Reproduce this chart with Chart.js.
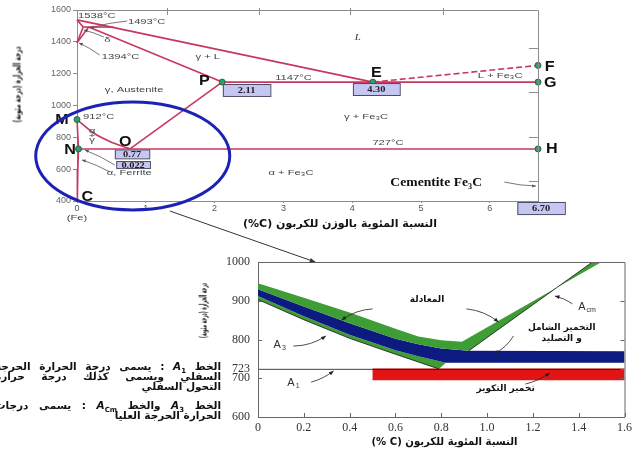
<!DOCTYPE html>
<html>
<head>
<meta charset="utf-8">
<script src="https://cdn.jsdelivr.net/npm/chart.js@4.4.1/dist/chart.umd.min.js"></script>
<style>
  body { margin: 0; background: #fff; width: 636px; height: 451px; position: relative; overflow: hidden; font-family: "DejaVu Sans", sans-serif; }
  canvas { position: absolute; left: 0; top: 0; }
  .t { position: absolute; white-space: nowrap; font-weight: bold; color: #111; direction: rtl; transform-origin: center center; }
  .note { position: absolute; right: 415px; width: 226px; font-size: 10.5px; line-height: 10px; font-weight: bold; direction: rtl; text-align: right; color: #111; white-space: nowrap; }
  .note.full { text-align: justify; text-align-last: justify; }
  .note sub { font-size: 7px; line-height: 0; }
</style>
</head>
<body>
<canvas id="main" width="636" height="451"></canvas>
<canvas id="inset" width="636" height="451"></canvas>

<div class="t" id="mainY" style="font-size:10px">درجة الحرارة (درجة مئوية)</div>
<div class="t" id="mainX" style="font-size:11px">النسبة المئوية بالوزن للكربون (C%)</div>
<div class="t" id="insetY" style="font-size:10px">درجة الحرارة (درجة مئوية)</div>
<div class="t" id="insetX" style="font-size:11px">النسبة المئوية للكربون (C %)</div>

<div class="note full" style="top:361px">الخط <i>A</i><sub>1</sub> : يسمى درجة الحرارة الحرجة</div>
<div class="note full" style="top:371px">السفلي ويسمى كذلك درجة حرارة</div>
<div class="note" style="top:381px">التحول السفلي</div>
<div class="note full" style="top:400px">الخط <i>A</i><sub>3</sub> والخط <i>A</i><sub>Cm</sub> : يسمى درجات</div>
<div class="note" style="top:410px">الحرارة الحرجة العليا</div>

<script>
// ---- Fe-Fe3C diagram (wt% C, deg C) ----
const liquidusC = [0, 4.3],        liquidusT = [1538, 1147];
const deltaSolidC = [0, 0.09],     deltaSolidT = [1538, 1493];
const deltaSolvusC = [0, 0.09],    deltaSolvusT = [1394, 1493];
const gammaDeltaC = [0, 0.17],     gammaDeltaT = [1394, 1493];
const peritecticC = [0.09, 0.53],  peritecticT = [1493, 1493];
const solidusC = [0.17, 2.11],     solidusT = [1493, 1147];
const eutecticC = [2.11, 6.7],     eutecticT = [1147, 1147];
const efC = [4.3, 6.7],            efT = [1147, 1252];
const acmC = [2.11, 0.77],         acmT = [1147, 727];
const a3C = [0, 0.24, 0.53, 0.77], a3T = [912, 827, 764, 727];
const eutectoidC = [0.022, 6.7],   eutectoidT = [727, 727];
const ferriteC = [0, 0.022, 0.012, 0.005], ferriteT = [912, 727, 600, 400];
const pointC = [0, 0.022, 2.11, 4.3, 6.7, 6.7, 6.7];
const pointT = [912, 727, 1147, 1147, 1252, 1147, 727];
const mainXTicks = [0, 1, 2, 3, 4, 5, 6];
const mainYTicks = [400, 600, 800, 1000, 1200, 1400, 1600];
const frameTopTicks = [1.31, 2.65, 3.97, 5.32];
const frameRightTicks = [1361, 1085, 802, 526];

// ---- zoomed steel part (heat treatment ranges) ----
const normUpperC = [0, 0.2, 0.4, 0.6, 0.7, 0.8, 0.89, 1.5];
const normUpperT = [945, 908, 870, 828, 808, 798, 794, 1000];
const normLowerC = [0, 0.2, 0.4, 0.6, 0.7, 0.8, 0.92, 1.46];
const normLowerT = [930, 885, 842, 802, 788, 777, 771, 1000];
const fullUpperC = [0, 0.2, 0.4, 0.6, 0.7, 0.8, 0.92, 1.6];
const fullUpperT = [930, 885, 842, 802, 788, 777, 771, 770];
const fullLowerC = [0, 0.2, 0.4, 0.6, 0.7, 0.82, 1.6];
const fullLowerT = [912, 860, 812, 772, 757, 740, 740];
const a3LowerC = [0, 0.2, 0.4, 0.6, 0.79];
const a3LowerT = [903, 851, 803, 762, 724];
const spheroC = [0.5, 1.6], spheroT = [695, 725];
const a1C = [0, 1.6], a1T = [723, 723];
const acmLineC = [0.92, 1.46], acmLineT = [771, 1000];
const insetXTicks = [0, 0.2, 0.4, 0.6, 0.8, 1.0, 1.2, 1.4, 1.6];
const insetYTicks = [600, 700, 723, 800, 900, 1000];

const RED = '#c8385e';
const pts = (cs, ts) => cs.map((c, i) => ({ x: c, y: ts[i] }));
const ring = (uc, ut, lc, lt) => pts(uc, ut).concat(pts(lc, lt).reverse());

function phaseLine(cs, ts, extra) {
  return Object.assign({ data: pts(cs, ts), borderColor: RED, borderWidth: 1.6, pointRadius: 0, fill: false, clip: false }, extra || {});
}

function arrow(ctx, x0, y0, x1, y1, bend, head) {
  const mx = (x0 + x1) / 2 - (y1 - y0) * bend, my = (y0 + y1) / 2 + (x1 - x0) * bend;
  ctx.beginPath(); ctx.moveTo(x0, y0); ctx.quadraticCurveTo(mx, my, x1, y1); ctx.stroke();
  const a = Math.atan2(y1 - my, x1 - mx);
  ctx.beginPath();
  ctx.moveTo(x1, y1);
  ctx.lineTo(x1 - head * Math.cos(a - 0.4), y1 - head * Math.sin(a - 0.4));
  ctx.lineTo(x1 - head * Math.cos(a + 0.4), y1 - head * Math.sin(a + 0.4));
  ctx.closePath(); ctx.fill();
}

function stretchText(ctx, txt, px, py, sx, align) {
  ctx.save();
  ctx.translate(px, py); ctx.scale(sx, 1);
  ctx.textAlign = align; ctx.fillText(txt, 0, 0);
  ctx.restore();
}

// text, C, T, kind
const mainLabels = [
  ['1538°C', 0.015, 1562, 's', 'left'], ['1493°C', 0.74, 1525, 's', 'left'],
  ['δ', 0.44, 1412, 's', 'center'], ['1394°C', 0.36, 1305, 's', 'left'],
  ['γ + L', 1.9, 1305, 's', 'center'], ['L', 4.08, 1424, 'i', 'center'],
  ['1147°C', 2.88, 1173, 's', 'left'], ['L + Fe₃C', 6.15, 1185, 's', 'center'],
  ['γ, Austenite', 0.83, 1097, 's', 'center'], ['912°C', 0.087, 928, 's', 'left'],
  ['γ + Fe₃C', 4.2, 928, 's', 'center'], ['727°C', 4.52, 764, 's', 'center'],
  ['α + Fe₃C', 3.11, 576, 's', 'center'], ['α, Ferrite', 0.76, 576, 's', 'center'],
  ['(Fe)', 0, 295, 's', 'center'],
  ['α', 0.22, 840, 's', 'center'], ['+', 0.22, 812, 's', 'center'], ['γ', 0.22, 784, 's', 'center'],
  ['P', 1.85, 1154, 'b', 'center'], ['E', 4.35, 1204, 'b', 'center'],
  ['F', 6.87, 1242, 'b', 'center'], ['G', 6.88, 1141, 'b', 'center'], ['H', 6.9, 727, 'b', 'center'],
  ['M', -0.22, 909, 'b', 'center'], ['N', -0.1, 720, 'b', 'center'],
  ['O', 0.7, 771, 'b', 'center'], ['C', 0.15, 425, 'b', 'center'],
  ['Cementite Fe₃C', 5.22, 513, 'c', 'center']
];
const mainBoxes = [
  ['2.11', 2.12, 2.81, 1135, 1060], ['4.30', 4.01, 4.69, 1141, 1066],
  ['0.77', 0.55, 1.05, 724, 668], ['0.022', 0.57, 1.06, 651, 607],
  ['6.70', 6.4, 7.09, 394, 318]
];
const mainPointers = [
  [0.73, 1531, 0.19, 1487], [0.39, 1430, 0.1, 1474], [0.33, 1317, 0.03, 1393],
  [0.55, 626, 0.116, 720], [0.48, 582, 0.073, 658], [6.21, 519, 6.67, 494]
];
const ringCenter = [0.81, 683], ringRadius = [1.41, 339];

const phaseNotes = {
  id: 'phaseNotes',
  afterDraw(chart) {
    const { ctx, chartArea: a, scales: { x, y } } = chart;
    ctx.save();
    ctx.strokeStyle = '#8c8c8c'; ctx.lineWidth = 1;
    ctx.beginPath();
    ctx.moveTo(a.left, a.top + 0.5); ctx.lineTo(a.right + 0.5, a.top + 0.5); ctx.lineTo(a.right + 0.5, a.bottom);
    frameTopTicks.forEach(v => { const p = Math.round(x.getPixelForValue(v)) + 0.5; ctx.moveTo(p, a.top - 2); ctx.lineTo(p, a.top + 5); });
    frameRightTicks.forEach(v => { const p = Math.round(y.getPixelForValue(v)) + 0.5; ctx.moveTo(a.right - 9, p); ctx.lineTo(a.right, p); });
    ctx.stroke();

    // value boxes
    ctx.textBaseline = 'middle';
    mainBoxes.forEach(([t, c0, c1, t0, t1]) => {
      const px0 = x.getPixelForValue(c0), px1 = x.getPixelForValue(c1);
      const py0 = y.getPixelForValue(t0), py1 = y.getPixelForValue(t1);
      ctx.fillStyle = '#c6c6f2'; ctx.fillRect(px0, py0, px1 - px0, py1 - py0);
      ctx.strokeStyle = '#4b4b66'; ctx.strokeRect(px0 + 0.5, py0 + 0.5, px1 - px0, py1 - py0);
      ctx.fillStyle = '#222'; ctx.font = 'bold 8px "Liberation Serif"';
      stretchText(ctx, t, (px0 + px1) / 2, (py0 + py1) / 2 + 1, 1.3, 'center');
    });

    // pointers
    ctx.strokeStyle = '#555'; ctx.fillStyle = '#555'; ctx.lineWidth = 0.8;
    mainPointers.forEach(([c0, t0, c1, t1]) => arrow(ctx, x.getPixelForValue(c0), y.getPixelForValue(t0), x.getPixelForValue(c1), y.getPixelForValue(t1), 0.05, 4));

    // labels
    mainLabels.forEach(([t, c, tt, k, al]) => {
      const px = x.getPixelForValue(c), py = y.getPixelForValue(tt);
      if (k === 'b') { ctx.font = 'bold 14px "Liberation Sans"'; ctx.fillStyle = '#111'; stretchText(ctx, t, px, py, 1.15, al); }
      else if (k === 'c') { ctx.font = 'bold 13px "Liberation Serif"'; ctx.fillStyle = '#111'; stretchText(ctx, t, px, py, 1.05, al); }
      else if (k === 'i') { ctx.font = 'italic 9px "Liberation Serif"'; ctx.fillStyle = '#333'; stretchText(ctx, t, px, py, 1.2, al); }
      else { ctx.font = '8px "Liberation Sans"'; ctx.fillStyle = '#444'; stretchText(ctx, t, px, py, 1.4, al); }
    });

    // circled region that is enlarged below
    const cx = x.getPixelForValue(ringCenter[0]), cy = y.getPixelForValue(ringCenter[1]);
    const rx = x.getPixelForValue(ringCenter[0] + ringRadius[0]) - cx;
    const ry = cy - y.getPixelForValue(ringCenter[1] + ringRadius[1]);
    ctx.strokeStyle = '#1b22b4'; ctx.lineWidth = 3;
    ctx.beginPath(); ctx.ellipse(cx, cy, rx, ry, 0, 0, Math.PI * 2); ctx.stroke();
    ctx.restore();
  }
};

const mainChart = new Chart(document.getElementById('main'), {
  type: 'line',
  data: {
    datasets: [
      { data: pts(pointC, pointT), showLine: false, pointRadius: 3, pointBackgroundColor: '#2f9d6c', pointBorderColor: '#1d6b48', pointBorderWidth: 1, clip: false, order: 0 },
      phaseLine(liquidusC, liquidusT),
      phaseLine(deltaSolidC, deltaSolidT),
      phaseLine(deltaSolvusC, deltaSolvusT),
      phaseLine(gammaDeltaC, gammaDeltaT),
      phaseLine(peritecticC, peritecticT),
      phaseLine(solidusC, solidusT),
      phaseLine(eutecticC, eutecticT),
      phaseLine(efC, efT, { borderDash: [6, 3] }),
      phaseLine(acmC, acmT),
      phaseLine(a3C, a3T, { cubicInterpolationMode: 'monotone' }),
      phaseLine(eutectoidC, eutectoidT),
      phaseLine(ferriteC, ferriteT)
    ]
  },
  options: {
    responsive: false, animation: false,
    layout: { padding: { top: 10, right: 98, left: 0, bottom: 0 } },
    plugins: { legend: { display: false }, tooltip: { enabled: false } },
    scales: {
      x: {
        type: 'linear', min: 0, max: 6.7,
        afterBuildTicks: s => { s.ticks = mainXTicks.map(v => ({ value: v })); },
        afterFit: s => { s.height = 250; },
        grid: { drawOnChartArea: false, tickLength: 2, color: '#8c8c8c' },
        border: { color: '#8c8c8c' },
        ticks: { color: '#555', font: { family: 'Liberation Sans', size: 9 }, padding: 0, maxRotation: 0, callback: v => String(v) }
      },
      y: {
        min: 400, max: 1600,
        afterBuildTicks: s => { s.ticks = mainYTicks.map(v => ({ value: v })); },
        afterFit: s => { s.width = 77; },
        grid: { drawOnChartArea: false, tickLength: 4, color: '#8c8c8c' },
        border: { color: '#8c8c8c' },
        ticks: { color: '#666', font: { family: 'Liberation Sans', size: 9 }, padding: 2, autoSkip: false, callback: v => String(v) }
      }
    }
  },
  plugins: [phaseNotes]
});

// ---- inset ----
const insetLabels = [
  ['المعادلة', 0.738, 902], ['التخمير الشامل', 1.326, 830], ['و التصليد', 1.326, 801], ['تخمير التكوير', 1.081, 672]
];
const insetSymbols = [['A', 'cm', 1.43, 884], ['A', '3', 0.1, 786], ['A', '1', 0.16, 688]];
const insetPointers = [
  [0.5, 879, 0.365, 850, 0.15], [0.91, 879, 1.05, 845, -0.15], [1.373, 892, 1.296, 912, 0.1],
  [1.115, 809, 1.03, 763, -0.15], [0.154, 783, 0.296, 809, 0.15], [0.232, 690, 0.33, 719, 0.1],
  [1.167, 685, 1.274, 714, 0.1]
];
const linkFrom = [1.35, 337], linkTo = [0.25, 1000];

const insetNotes = {
  id: 'insetNotes',
  afterDraw(chart) {
    const { ctx, chartArea: a, scales: { x, y } } = chart;
    ctx.save();
    ctx.strokeStyle = '#666'; ctx.lineWidth = 1;
    ctx.beginPath();
    ctx.moveTo(a.left, a.top + 0.5); ctx.lineTo(a.right + 0.5, a.top + 0.5); ctx.lineTo(a.right + 0.5, a.bottom);
    insetYTicks.forEach(v => {
      const p = Math.round(y.getPixelForValue(v)) + 0.5;
      ctx.moveTo(a.left, p); ctx.lineTo(a.left + 4, p);
      ctx.moveTo(a.right, p); ctx.lineTo(a.right - 4, p);
    });
    insetXTicks.forEach(v => { const p = Math.round(x.getPixelForValue(v)) + 0.5; ctx.moveTo(p, a.bottom); ctx.lineTo(p, a.bottom - 4); });
    ctx.stroke();

    ctx.fillStyle = '#111'; ctx.textBaseline = 'middle'; ctx.textAlign = 'center';
    ctx.font = 'bold 9px "DejaVu Sans"';
    insetLabels.forEach(([t, c, tt]) => ctx.fillText(t, x.getPixelForValue(c), y.getPixelForValue(tt)));

    ctx.fillStyle = '#333';
    insetSymbols.forEach(([t, sub, c, tt]) => {
      const px = x.getPixelForValue(c), py = y.getPixelForValue(tt);
      ctx.font = '11px "Liberation Sans"'; ctx.textAlign = 'right'; ctx.fillText(t, px, py);
      ctx.font = '7px "Liberation Sans"'; ctx.textAlign = 'left'; ctx.fillText(sub, px + 1, py + 3);
    });

    ctx.strokeStyle = '#222'; ctx.fillStyle = '#222'; ctx.lineWidth = 0.8;
    insetPointers.forEach(([c0, t0, c1, t1, b]) => arrow(ctx, x.getPixelForValue(c0), y.getPixelForValue(t0), x.getPixelForValue(c1), y.getPixelForValue(t1), b, 5));

    // link from the circled region of the full diagram
    const mx = mainChart.scales.x, my = mainChart.scales.y;
    ctx.strokeStyle = '#333'; ctx.fillStyle = '#333'; ctx.lineWidth = 1;
    arrow(ctx, mx.getPixelForValue(linkFrom[0]), my.getPixelForValue(linkFrom[1]), x.getPixelForValue(linkTo[0]), y.getPixelForValue(linkTo[1]), 0, 6);
    ctx.restore();
  }
};

function band(data, color, order) {
  return { data: data, backgroundColor: color, borderWidth: 0, pointRadius: 0, fill: 'shape', order: order };
}
function edge(cs, ts) {
  return { data: pts(cs, ts), borderColor: '#111', borderWidth: 0.8, pointRadius: 0, fill: false, order: 0 };
}

new Chart(document.getElementById('inset'), {
  type: 'line',
  data: {
    datasets: [
      band(ring(normUpperC, normUpperT, normLowerC, normLowerT), '#3e9e35', 3),
      band(ring(fullUpperC, fullUpperT, fullLowerC, fullLowerT), '#0d1a80', 3),
      band(pts(fullLowerC.slice(0, 6), fullLowerT.slice(0, 6)).concat(pts(a3LowerC, a3LowerT).reverse()), '#3e9e35', 3),
      band(ring(spheroC, [spheroT[1], spheroT[1]], spheroC, [spheroT[0], spheroT[0]]), '#e21414', 2),
      edge(a1C, a1T),
      edge(a3LowerC, a3LowerT),
      edge(acmLineC, acmLineT)
    ]
  },
  options: {
    responsive: false, animation: false,
    layout: { padding: { top: 262, right: 5, left: 0, bottom: 0 } },
    plugins: { legend: { display: false }, tooltip: { enabled: false } },
    scales: {
      x: {
        type: 'linear', min: 0, max: 1.6,
        afterBuildTicks: s => { s.ticks = insetXTicks.map(v => ({ value: v })); },
        afterFit: s => { s.height = 34; },
        grid: { drawOnChartArea: false, drawTicks: false },
        border: { color: '#666' },
        ticks: { color: '#333', font: { family: 'Liberation Serif', size: 12 }, padding: 4, maxRotation: 0,
                 callback: v => v === 0 ? '0' : v.toFixed(1) }
      },
      y: {
        min: 600, max: 1000,
        afterBuildTicks: s => { s.ticks = insetYTicks.map(v => ({ value: v })); },
        afterFit: s => { s.width = 258; },
        grid: { drawOnChartArea: false, drawTicks: false },
        border: { color: '#666' },
        ticks: { color: '#333', font: { family: 'Liberation Serif', size: 12 }, padding: 8, autoSkip: false, callback: v => String(v) }
      }
    }
  },
  plugins: [insetNotes]
});

// axis titles placed and squeezed to the reference length
function place(id, cx, cy, w, rot) {
  const el = document.getElementById(id);
  const ow = el.offsetWidth, oh = el.offsetHeight;
  el.style.left = (cx - ow / 2) + 'px';
  el.style.top = (cy - oh / 2) + 'px';
  el.style.transform = (rot ? 'rotate(-90deg) ' : '') + 'scaleX(' + (w / ow) + ')';
}
place('mainY', 17, 84, 76, true);
place('mainX', 340, 223, 194, false);
place('insetY', 203, 310, 55, true);
place('insetX', 444, 441, 146, false);
</script>
</body>
</html>
